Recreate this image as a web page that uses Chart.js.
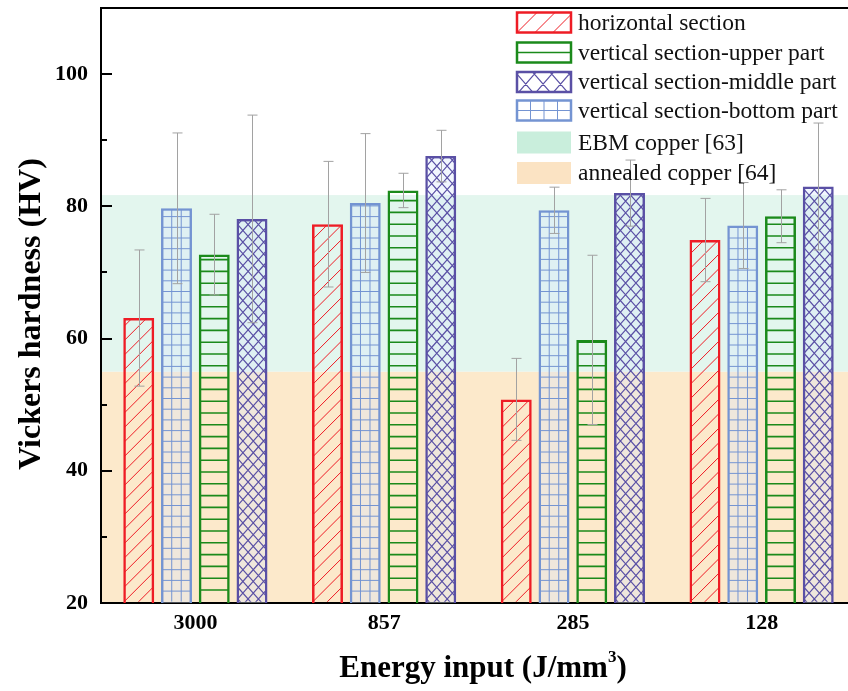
<!DOCTYPE html>
<html>
<head>
<meta charset="utf-8">
<script src="https://cdn.jsdelivr.net/npm/chart.js@4.4.1/dist/chart.umd.min.js"></script>
<style>
html,body{margin:0;padding:0;background:#fff;overflow:hidden;}
#wrap{width:860px;height:691px;position:relative;}
</style>
</head>
<body>
<div id="wrap"><canvas id="c"></canvas></div>
<script>
// energy input groups (J/mm3)
const categories = ['3000', '857', '285', '128'];

// Vickers hardness (HV) per section, with error (+/-)
const horizontal    = [63.1, 77.3, 50.8, 74.9];
const horizontalErr = [10.3, 9.5, 6.2, 6.3];
const bottomPart    = [79.7, 80.5, 79.4, 77.1];
const bottomErr     = [11.4, 10.5, 3.5, 6.5];
const upperPart     = [72.7, 82.4, 59.8, 78.5];
const upperErr      = [6.1, 2.6, 12.8, 4.0];
const middlePart    = [78.1, 87.6, 82.0, 83.0];
const middleErr     = [15.7, 3.9, 5.0, 9.6];

const seriesNames = ['horizontal section', 'vertical section-bottom part',
                     'vertical section-upper part', 'vertical section-middle part'];

// reference bands
const ebmBand = [55, 81.7];
const annealedBand = [20, 55];
const bandNames = ['EBM copper [63]', 'annealed copper [64]'];

const yTicks = [20, 40, 60, 80, 100];
const yMinorTicks = [30, 50, 70, 90];

const FONT = "'Liberation Serif', 'Times New Roman', serif";
const RED = '#ee1c25', BLUE = '#7494d2', GREEN = '#1b8a1b', PURPLE = '#5a50a5';
const EBM_BG = '#e3f6ee', ANN_BG = '#fce9cb';

function drawPattern(ctx, kind, color, x0, y0, x1, y1, o) {
    const w = x1 - x0, h = y1 - y0;
    if (w <= 0 || h <= 0) return;
    ctx.save();
    ctx.beginPath();
    ctx.rect(x0, y0, w, h);
    ctx.clip();
    ctx.strokeStyle = color;
    ctx.lineWidth = o.lw;
    ctx.beginPath();
    if (kind === 'diag') {
        for (let k = -w; k < h + w; k += o.step) {
            ctx.moveTo(x0, y1 - k);
            ctx.lineTo(x1, y1 - k - w);
        }
    }
    if (kind === 'hlines' || kind === 'grid') {
        for (let y = y1 - o.step; y > y0 + 1; y -= o.step) {
            ctx.moveTo(x0, y); ctx.lineTo(x1, y);
        }
    }
    if (kind === 'grid') {
        for (let x = x0 + o.stepX; x < x1 - 1; x += o.stepX) {
            ctx.moveTo(x, y0); ctx.lineTo(x, y1);
        }
    }
    if (kind === 'cross') {
        const d = w * o.slope;
        for (let k = -d - o.step; k < h + d + o.step; k += o.step) {
            ctx.moveTo(x0, y1 - k); ctx.lineTo(x1, y1 - k - d);
            ctx.moveTo(x0, y1 - k); ctx.lineTo(x1, y1 - k + d);
        }
    }
    ctx.stroke();
    ctx.restore();
}

const barPatterns = [
    { kind: 'diag', color: RED, lw: 1, step: 14.5 },
    { kind: 'grid', color: BLUE, lw: 1, step: 10.7, stepX: 9.5 },
    { kind: 'hlines', color: GREEN, lw: 1.6, step: 11.8 },
    { kind: 'cross', color: PURPLE, lw: 1.2, step: 11.7, slope: 1.13 }
];
const errs = [horizontalErr, bottomErr, upperErr, middleErr];

const bandsPlugin = {
    id: 'bands',
    beforeDraw(chart) {
        const { ctx, chartArea: a, scales: { y } } = chart;
        ctx.save();
        [[annealedBand, ANN_BG], [ebmBand, EBM_BG]].forEach(([b, c]) => {
            const top = y.getPixelForValue(b[1]), bot = y.getPixelForValue(b[0]);
            ctx.fillStyle = c;
            ctx.fillRect(a.left, top, a.right - a.left + 10, bot - top);
        });
        ctx.restore();
    }
};

const patternPlugin = {
    id: 'patterns',
    afterDatasetDraw(chart, args) {
        const p = barPatterns[args.index];
        const ctx = chart.ctx, bottom = chart.chartArea.bottom;
        args.meta.data.forEach(el => {
            const { x, y, base, width } = el.getProps(['x', 'y', 'base', 'width'], true);
            const inset = 1.2;
            drawPattern(ctx, p.kind, p.color, x - width / 2 + inset, y + inset,
                        x + width / 2 - inset, Math.min(base, bottom) - inset, p);
        });
    },
    afterDatasetsDraw(chart) {
        const { ctx, scales: { y } } = chart;
        ctx.save();
        ctx.strokeStyle = '#a2a2a2';
        ctx.lineWidth = 1;
        chart.data.datasets.forEach((ds, i) => {
            chart.getDatasetMeta(i).data.forEach((el, j) => {
                const v = ds.data[j], e = errs[i][j];
                const x = Math.round(el.x) + 0.5;
                const yt = y.getPixelForValue(v + e), yb = y.getPixelForValue(v - e);
                ctx.beginPath();
                ctx.moveTo(x, yt); ctx.lineTo(x, yb);
                ctx.moveTo(x - 5, yt); ctx.lineTo(x + 5, yt);
                ctx.moveTo(x - 5, yb); ctx.lineTo(x + 5, yb);
                ctx.stroke();
            });
        });
        ctx.restore();
    }
};

const framePlugin = {
    id: 'frame',
    afterDraw(chart) {
        const { ctx, chartArea: a, scales: { y } } = chart;
        ctx.save();
        ctx.strokeStyle = '#000';
        ctx.lineWidth = 2;
        ctx.beginPath();
        ctx.moveTo(a.left - 1, a.top); ctx.lineTo(a.right + 10, a.top);
        yTicks.forEach(v => { const py = Math.round(y.getPixelForValue(v)); ctx.moveTo(a.left, py); ctx.lineTo(a.left + 11, py); });
        yMinorTicks.forEach(v => { const py = Math.round(y.getPixelForValue(v)); ctx.moveTo(a.left, py); ctx.lineTo(a.left + 6, py); });
        ctx.stroke();

        // axis titles
        ctx.fillStyle = '#000';
        ctx.font = 'bold 32px ' + FONT;
        ctx.textAlign = 'center';
        ctx.textBaseline = 'middle';
        ctx.save();
        ctx.translate(32, 314);
        ctx.rotate(-Math.PI / 2);
        ctx.fillText('Vickers hardness (HV)', 0, 0);
        ctx.restore();

        const main = 'Energy input (J/mm', sup = '3', tail = ')';
        ctx.textAlign = 'left';
        ctx.textBaseline = 'alphabetic';
        ctx.font = 'bold 31px ' + FONT;
        const w1 = ctx.measureText(main).width, w3 = ctx.measureText(tail).width;
        ctx.font = 'bold 17px ' + FONT;
        const w2 = ctx.measureText(sup).width;
        let sx = 483 - (w1 + w2 + w3) / 2;
        const base = 677;
        ctx.font = 'bold 31px ' + FONT;
        ctx.fillText(main, sx, base);
        ctx.font = 'bold 17px ' + FONT;
        ctx.fillText(sup, sx + w1, base - 15);
        ctx.font = 'bold 31px ' + FONT;
        ctx.fillText(tail, sx + w1 + w2, base);

        // legend
        const rows = [22.5, 52.5, 82, 110.5, 142.5, 173];
        const order = [0, 2, 3, 1];
        const bx = 517, bw = 54;
        ctx.font = '23.5px ' + FONT;
        ctx.textBaseline = 'middle';
        order.forEach((di, r) => {
            const p = barPatterns[di], cy = rows[r];
            const y0 = cy - 10, y1 = cy + 10;
            const lp = {
                diag: { lw: 1, step: 18 },
                grid: { lw: 1, step: 10, stepX: 13.5 },
                hlines: { lw: 1.6, step: 10 },
                cross: { lw: 1.2, step: 20, slope: 1.15 }
            }[p.kind];
            ctx.fillStyle = '#fff';
            ctx.fillRect(bx, y0, bw, 20);
            drawPattern(ctx, p.kind, p.color, bx, y0, bx + bw, y1, lp);
            ctx.strokeStyle = p.color;
            ctx.lineWidth = 2.5;
            ctx.strokeRect(bx, y0, bw, 20);
            ctx.fillStyle = '#111';
            ctx.fillText(seriesNames[di], 578, cy + 1);
        });
        [['#c9eedc', bandNames[0], rows[4]], ['#fbe3c3', bandNames[1], rows[5]]].forEach(([c, t, cy]) => {
            ctx.fillStyle = c;
            ctx.fillRect(bx, cy - 11, bw, 22);
            ctx.fillStyle = '#111';
            ctx.fillText(t, 578, cy + 1);
        });
        ctx.restore();
    }
};

const mk = (i, data, fill, border) => ({
    label: seriesNames[i], data,
    backgroundColor: fill, borderColor: border, borderWidth: 2.5, borderSkipped: false,
    categoryPercentage: 0.8, barPercentage: 0.82
});

new Chart(document.getElementById('c'), {
    type: 'bar',
    data: {
        labels: categories,
        datasets: [
            mk(0, horizontal, 'rgba(255,255,255,0)', RED),
            mk(1, bottomPart, 'rgba(214,228,252,0.35)', BLUE),
            mk(2, upperPart, 'rgba(255,255,255,0)', GREEN),
            mk(3, middlePart, 'rgba(214,228,252,0.35)', PURPLE)
        ]
    },
    options: {
        responsive: true, maintainAspectRatio: false, animation: false,
        layout: { padding: { top: 8, right: 4, left: 0, bottom: 0 } },
        plugins: { legend: { display: false }, tooltip: { enabled: false } },
        scales: {
            x: {
                grid: { display: false, drawTicks: false },
                border: { display: true, color: '#000', width: 2 },
                ticks: { color: '#000', font: { family: FONT, size: 22, weight: 'bold' }, padding: 7 },
                afterFit(s) { s.height = 88; s.paddingLeft = 0; s.paddingRight = 0; }
            },
            y: {
                min: 20, max: 110,
                grid: { display: false, drawTicks: false },
                border: { display: true, color: '#000', width: 2 },
                ticks: { color: '#000', font: { family: FONT, size: 22, weight: 'bold' }, padding: 13 },
                afterBuildTicks(s) { s.ticks = yTicks.map(v => ({ value: v })); },
                afterFit(s) { s.width = 101; s.paddingTop = 0; s.paddingBottom = 0; }
            }
        }
    },
    plugins: [bandsPlugin, patternPlugin, framePlugin]
});
</script>
</body>
</html>
